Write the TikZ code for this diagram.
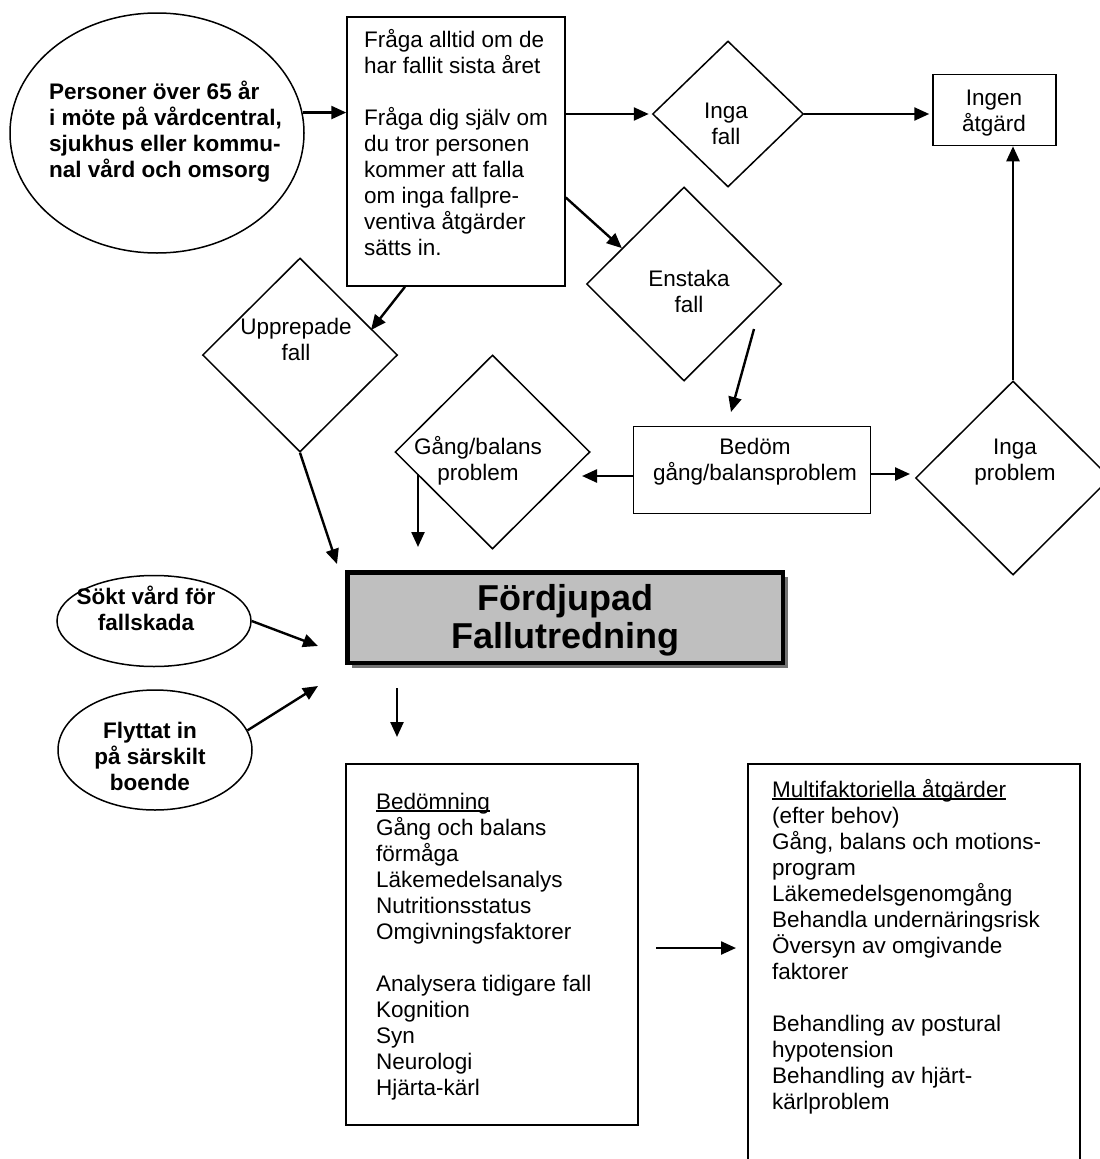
\documentclass[tikz,border=0pt]{standalone}
\usepackage{fontspec}
\setmainfont{Liberation Sans}
\usetikzlibrary{shapes.geometric,arrows.meta,shadows}
\newcommand\undertxt[1]{\setbox0\hbox{#1}\rlap{\rule[-2.5pt]{\wd0}{1.2pt}}\box0}

\begin{document}
\begin{tikzpicture}[x=1pt,y=1pt,
    frame/.style={draw,line width=1.5pt,inner sep=0pt},
    choice/.style={frame,diamond,minimum width=195,minimum height=194},
    oval/.style={frame,ellipse},
    flow/.style={line width=2.4pt,-{Triangle[length=15pt,width=13pt]}},
    txt/.style={inner sep=0pt,font=\fontsize{22.5}{26}\selectfont,anchor=base,align=center},
    ltxt/.style={inner sep=0pt,font=\fontsize{22.5}{26}\selectfont,anchor=base west,align=left},
    btxt/.style={txt,font=\fontsize{22.5}{26}\selectfont\bfseries}]
        \useasboundingbox (0,0) rectangle (1100,-1159);
        \clip (0,0) rectangle (1100,-1159);
        \node [oval,minimum width=294,minimum height=240] (pers) at (157,-133) {};
        \node [frame,minimum width=218,minimum height=269] (fraga) at (456,-151.5) {};
        \node [choice,minimum width=151,minimum height=146] (ingafall) at (728,-114) {};
        \node [frame,minimum width=123,minimum height=71] (ingen) at (994.5,-110) {};
        \node [choice] (enstaka) at (684,-284) {};
        \node [choice] (upprep) at (300,-355) {};
        \node [choice] (gangbal) at (492.5,-452) {};
        \node [frame,minimum width=237,minimum height=87] (bedom) at (752,-470) {};
        \node [choice] (ingaprob) at (1013,-478) {};
        \node [draw,line width=4.5pt,fill=black!25,inner sep=0pt,minimum width=435.5,minimum height=90.5,
            drop shadow={shadow xshift=5pt,shadow yshift=-5pt,fill=black!55,opacity=1}] (fordj) at (565,-617.5) {};
        \node [oval,minimum width=194,minimum height=91] (sokt) at (154,-621) {};
        \node [oval,minimum width=194,minimum height=120] (flytt) at (155,-750) {};
        \node [frame,minimum width=292,minimum height=361] (bedomn) at (492,-944.5) {};
        \node [frame,minimum width=332,minimum height=436] (multi) at (914,-982) {};

        \node [btxt,anchor=base west,align=left] (pers-t) at (49,-177) {Personer över 65 år\\i möte på vårdcentral,\\sjukhus eller kommu-\\nal vård och omsorg};
        \node [ltxt] (fraga-t) at (364,-255) {Fråga alltid om de\\har fallit sista året\\[26pt]Fråga dig själv om\\du tror personen\\kommer att falla\\om inga fallpre-\\ventiva åtgärder\\sätts in.};
        \node [txt] (ingafall-t) at (726,-144) {Inga\\fall};
        \node [txt] (ingen-t) at (994,-131) {Ingen\\åtgärd};
        \node [txt] (enstaka-t) at (689,-312) {Enstaka\\fall};
        \node [txt] (upprep-t) at (296,-360) {Upprepade\\fall};
        \node [txt] (gangbal-t) at (478,-480) {Gång/balans\\problem};
        \node [txt] (bedom-t) at (755,-480) {Bedöm\\gång/balansproblem};
        \node [txt] (ingaprob-t) at (1015,-480) {Inga\\problem};
        \node [btxt] (sokt-t) at (146,-630) {Sökt vård för\\fallskada};
        \node [btxt] (flytt-t) at (150,-790) {Flyttat in\\på särskilt\\boende};
        \node [txt,font=\fontsize{36}{38}\selectfont\bfseries] (fordj-t) at (565,-648) {Fördjupad\\Fallutredning};
        \node [ltxt] (bedomn-t) at (376,-1095) {\undertxt{Bedömning}\\Gång och balans\\förmåga\\Läkemedelsanalys\\Nutritionsstatus\\Omgivningsfaktorer\\[26pt]Analysera tidigare fall\\Kognition\\Syn\\Neurologi\\Hjärta-kärl};
        \node [ltxt] (multi-t) at (772,-1109) {\undertxt{Multifaktoriella åtgärder}\\(efter behov)\\Gång, balans och motions-\\program\\Läkemedelsgenomgång\\Behandla undernäringsrisk\\Översyn av omgivande\\faktorer\\[26pt]Behandling av postural\\hypotension\\Behandling av hjärt-\\kärlproblem};

        \coordinate (upprep-in) at (371,-330);
        \coordinate (enstaka-out) at (754,-329);
        \coordinate (bedom-in) at (731,-412);
        \coordinate (gangbal-in) at (582,-476);
        \coordinate (ingaprob-in) at (910,-474);
        \coordinate (fordj-in1) at (337,-564);
        \coordinate (gangbal-out) at (418,-474);
        \coordinate (fordj-in2) at (418,-547);
        \coordinate (fordj-in3) at (318,-646);
        \coordinate (fordj-in4) at (318,-686);
        \coordinate (fordj-out) at (397,-688);
        \coordinate (bedomn-in) at (397,-737);
        \coordinate (bedomn-out) at (656,-948);
        \coordinate (multi-in) at (736,-948);

        \draw [flow] (pers.8) -- (pers.8 -| fraga.west);
        \draw [flow,shorten >=3pt] (ingafall.west -| fraga.east) -- (ingafall.west);
        \draw [flow,shorten >=3pt] (ingafall.east) -- (ingafall.east -| ingen.west);
        \draw [flow] ([yshift=-46pt]fraga.east) -- (enstaka.150);
        \draw [flow] ([xshift=-51pt]fraga.south) -- (upprep-in);
        \draw [flow] (enstaka-out) -- (bedom-in);
        \draw [flow] (bedom.west |- gangbal-in) -- (gangbal-in);
        \draw [flow] (bedom.east |- ingaprob-in) -- (ingaprob-in);
        \draw [flow] (ingaprob.north) -- (ingaprob.north |- ingen.south);
        \draw [flow] (upprep.south) -- (fordj-in1);
        \draw [flow] (gangbal-out) -- (fordj-in2);
        \draw [flow] (sokt.east) -- (fordj-in3);
        \draw [flow] (flytt.12) -- (fordj-in4);
        \draw [flow] (fordj-out) -- (bedomn-in);
        \draw [flow] (bedomn-out) -- (multi-in);
    \end{tikzpicture}
\end{document}
